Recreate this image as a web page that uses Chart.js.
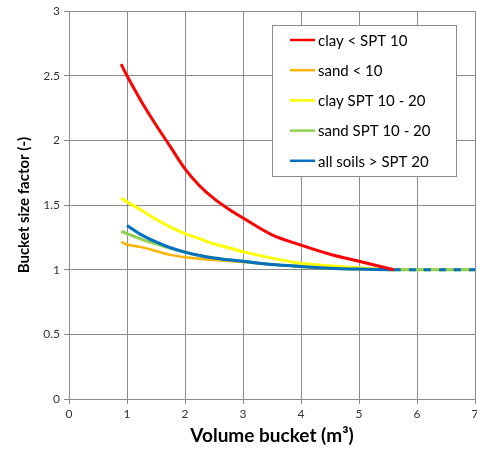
<!DOCTYPE html>
<html>
<head>
<meta charset="utf-8">
<script src="https://cdn.jsdelivr.net/npm/chart.js@4"></script>
<style>
	html, body { margin: 0; padding: 0; background: #fff; }
	#wrap { width: 477px; height: 451px; }
</style>
</head>
<body>
<div id="wrap"><canvas id="myChart"></canvas></div>
<script>
// volume (m3) sample points
const volume = [0.9, 1, 1.25, 1.5, 1.75, 2, 2.25, 2.5, 2.75, 3, 3.5, 4, 4.5, 5, 5.6, 6, 6.5, 7];

const clayUnder10 = [2.59, 2.5, 2.3, 2.12, 1.95, 1.78, 1.65, 1.55, 1.47, 1.40, 1.27, 1.19, 1.12, 1.065, 1.0, null, null, null];
const sandUnder10 = [1.215, 1.195, 1.175, 1.145, 1.115, 1.097, 1.085, 1.075, 1.067, 1.06, 1.04, 1.025, 1.012, 1.005, 1.0, 1.0, 1.0, 1.0];
const clay10to20 = [1.555, 1.525, 1.46, 1.39, 1.33, 1.28, 1.24, 1.2, 1.17, 1.14, 1.09, 1.05, 1.03, 1.015, 1.0, 1.0, 1.0, 1.0];
const sand10to20 = [1.297, 1.28, 1.235, 1.2, 1.165, 1.135, 1.11, 1.09, 1.077, 1.065, 1.04, 1.025, 1.012, 1.005, 1.0, 1.0, 1.0, 1.0];
const allOver20 = [null, 1.343, 1.27, 1.215, 1.17, 1.136, 1.11, 1.09, 1.077, 1.065, 1.04, 1.025, 1.012, 1.005, 1.0, 1.0, 1.0, 1.0];

const xTicks = [0, 1, 2, 3, 4, 5, 6, 7];
const yTicks = [0, 0.5, 1, 1.5, 2, 2.5, 3];

const font = 'Lato, "Open Sans", sans-serif';

function points(values) {
	return volume.map((v, i) => ({ x: v, y: values[i] }));
}

const dashAfter = (dash) => ({
	borderDash: (ctx) => (ctx.p0.parsed.x >= 5.6 ? dash : undefined)
});

const datasets = [
	{ label: 'clay < SPT 10', data: points(clayUnder10), borderColor: '#ff0000', borderWidth: 3, order: 0 },
	{ label: 'sand < 10', data: points(sandUnder10), borderColor: '#ffb400', borderWidth: 2.5, order: 4 },
	{ label: 'clay SPT 10 - 20', data: points(clay10to20), borderColor: '#ffff00', borderWidth: 3, order: 2, segment: dashAfter([3, 12]) },
	{ label: 'sand SPT 10 - 20', data: points(sand10to20), borderColor: '#92d050', borderWidth: 3, order: 3 },
	{ label: 'all soils > SPT 20', data: points(allOver20), borderColor: '#0070c0', borderWidth: 3, order: 1, segment: dashAfter([7, 8]) }
];
datasets.forEach((d) => {
	d.pointRadius = 0;
	d.tension = 0.3;
	d.fill = false;
	d.spanGaps = false;
});

// legend box drawn inside the plot like the original
const boxLegend = {
	id: 'boxLegend',
	afterDraw(chart) {
		const c = chart.ctx;
		const x0 = 272, y0 = 25, w = 184, h = 151;
		c.save();
		c.fillStyle = '#fff';
		c.fillRect(x0, y0, w, h);
		c.strokeStyle = '#8c8c8c';
		c.lineWidth = 1;
		c.strokeRect(x0 + 0.5, y0 + 0.5, w, h);
		c.font = '15px ' + font;
		c.textBaseline = 'middle';
		chart.data.datasets.forEach((d, i) => {
			const y = y0 + 15 + i * 30.2;
			c.strokeStyle = d.borderColor;
			c.lineWidth = 2.5;
			c.beginPath();
			c.moveTo(x0 + 18, y);
			c.lineTo(x0 + 43, y);
			c.stroke();
			c.fillStyle = '#000';
			c.fillText(d.label, x0 + 46, y + 1);
		});
		c.restore();
	}
};

new Chart(document.getElementById('myChart'), {
	type: 'line',
	data: { datasets: datasets },
	plugins: [boxLegend],
	options: {
		responsive: true,
		maintainAspectRatio: false,
		animation: false,
		layout: { padding: { top: 8, right: 0, left: 0, bottom: 0 } },
		plugins: { legend: { display: false }, tooltip: { enabled: false } },
		scales: {
			x: {
				type: 'linear',
				min: 0,
				max: 7,
				afterBuildTicks: (s) => { s.ticks = xTicks.map((v) => ({ value: v })); },
				afterFit: (s) => { s.height = 52; s.paddingRight = 2; },
				grid: { color: '#8c8c8c', tickLength: 5, drawTicks: true },
				border: { color: '#8c8c8c' },
				ticks: { color: '#333', font: { family: font, size: 12 }, padding: 3, maxRotation: 0, callback: (v) => String(v) },
				title: { display: true, text: 'Volume bucket (m³)', color: '#000', font: { family: font, size: 19, weight: 'bold' }, padding: { top: 8 } }
			},
			y: {
				min: 0,
				max: 3,
				afterBuildTicks: (s) => { s.ticks = yTicks.map((v) => ({ value: v })); },
				afterFit: (s) => { s.width = 69; },
				grid: { color: '#8c8c8c', tickLength: 5 },
				border: { color: '#8c8c8c' },
				ticks: { color: '#333', font: { family: font, size: 12 }, padding: 4, callback: (v) => String(v) },
				title: { display: true, text: 'Bucket size factor (-)', color: '#000', font: { family: font, size: 15, weight: 'bold' }, padding: { top: 15, bottom: 4 } }
			}
		}
	}
});
</script>
</body>
</html>
